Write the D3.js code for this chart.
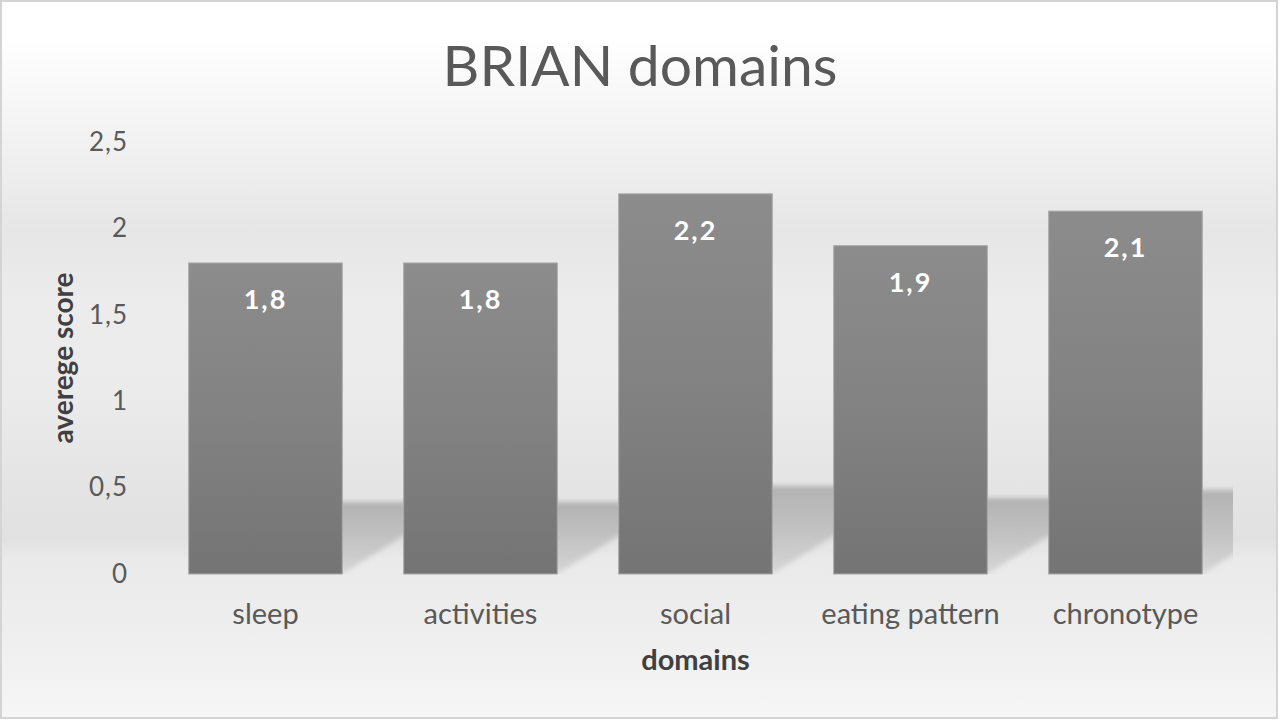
<!DOCTYPE html>
<html>
<head>
<meta charset="utf-8">
<script src="https://cdn.jsdelivr.net/npm/d3@7"></script>
<style>
  body { margin: 0; background: #fff; }
  text { font-family: Lato, "Open Sans", sans-serif; }
</style>
</head>
<body>
<div id="chart"></div>
<script>
var domains = ["sleep", "activities", "social", "eating pattern", "chronotype"];
var scores = [1.8, 1.8, 2.2, 1.9, 2.1];
var scoreLabels = ["1,8", "1,8", "2,2", "1,9", "2,1"];
var tickValues = [0, 0.5, 1, 1.5, 2, 2.5];
var tickLabels = ["0", "0,5", "1", "1,5", "2", "2,5"];

var W = 1280, H = 720;
var margin = {top: 142, right: 47, bottom: 146, left: 158},
    width = W - margin.left - margin.right,
    height = H - margin.top - margin.bottom;

var svg = d3.select("#chart")
  .append("svg")
    .attr("width", W)
    .attr("height", H);

var defs = svg.append("defs");

// background: soft grey gradient like the office preset
var bg = defs.append("linearGradient")
    .attr("id", "bg").attr("x1", 0).attr("y1", 0).attr("x2", 0).attr("y2", 1);
[[0, "#ffffff"], [0.05, "#ffffff"], [0.32, "#e6e6e6"], [0.42, "#ececec"], [0.55, "#ebebeb"],
 [0.68, "#e4e4e4"], [0.75, "#e1e1e1"], [0.78, "#eaeaea"], [0.88, "#eeeeee"], [1, "#f6f6f6"]]
  .forEach(function (s) { bg.append("stop").attr("offset", s[0]).attr("stop-color", s[1]); });

var barGrad = defs.append("linearGradient")
    .attr("id", "barGrad").attr("x1", 0).attr("y1", 0).attr("x2", 0).attr("y2", 1);
[[0, "#8c8c8c"], [0.5, "#828282"], [1, "#747474"]]
  .forEach(function (s) { barGrad.append("stop").attr("offset", s[0]).attr("stop-color", s[1]); });

var shGrad = defs.append("linearGradient")
    .attr("id", "shGrad").attr("x1", 0).attr("y1", 0).attr("x2", 0).attr("y2", 1);
[[0, "#b2b2b2"], [0.5, "#c2c2c2"], [1, "#d6d6d6"]]
  .forEach(function (s) { shGrad.append("stop").attr("offset", s[0]).attr("stop-color", s[1]); });

defs.append("filter").attr("id", "blur")
  .attr("x", "-20%").attr("y", "-20%").attr("width", "140%").attr("height", "140%")
  .append("feGaussianBlur").attr("stdDeviation", 2.5);

defs.append("clipPath").attr("id", "plotClip")
  .append("rect")
    .attr("x", 0).attr("y", 0)
    .attr("width", width).attr("height", height);

svg.append("rect")
    .attr("x", 1).attr("y", 1)
    .attr("width", W - 4).attr("height", H - 3)
    .attr("fill", "url(#bg)")
    .attr("stroke", "#d4d4d4")
    .attr("stroke-width", 2);

var g = svg.append("g")
    .attr("transform", "translate(" + margin.left + "," + margin.top + ")");

var x = d3.scaleBand()
    .domain(domains)
    .range([0, width])
    .paddingInner(0.2857)
    .paddingOuter(0.1428);

var y = d3.scaleLinear()
    .domain([0, 2.5])
    .range([height, 0]);

// perspective shadows cast backwards onto the floor
g.append("g")
    .attr("clip-path", "url(#plotClip)")
  .selectAll("polygon")
  .data(domains)
  .enter()
  .append("polygon")
    .attr("points", function (d, i) {
      var x0 = x(d), x1 = x(d) + x.bandwidth();
      var h = scores[i] * 40, s = h * 1.6;
      return [[x0, height], [x1, height], [x1 + s, height - h], [x0 + s, height - h]].join(" ");
    })
    .attr("fill", "url(#shGrad)")
    .attr("filter", "url(#blur)");

g.append("g")
    .attr("class", "y-axis")
    .call(d3.axisLeft(y).tickValues(tickValues).tickSize(0).tickPadding(30)
      .tickFormat(function (d, i) { return tickLabels[i]; }))
    .call(function (a) { a.select(".domain").remove(); })
    .selectAll("text")
      .attr("fill", "#595959")
      .style("font-size", "26px")
      .style("letter-spacing", "1px");

g.append("g")
    .attr("class", "x-axis")
    .attr("transform", "translate(0," + height + ")")
    .call(d3.axisBottom(x).tickSize(0).tickPadding(29))
    .call(function (a) { a.select(".domain").remove(); })
    .selectAll("text")
      .attr("fill", "#595959")
      .style("font-size", "29px");

g.selectAll("rect.bar")
  .data(domains)
  .enter()
  .append("rect")
    .attr("class", "bar")
    .attr("x", function (d) { return x(d); })
    .attr("y", function (d, i) { return y(scores[i]); })
    .attr("width", x.bandwidth())
    .attr("height", function (d, i) { return height - y(scores[i]); })
    .attr("fill", "url(#barGrad)")
    .attr("stroke", "#a8a8a8")
    .attr("stroke-width", 1);

g.selectAll("text.val")
  .data(domains)
  .enter()
  .append("text")
    .attr("class", "val")
    .attr("x", function (d) { return x(d) + x.bandwidth() / 2; })
    .attr("y", function (d, i) { return y(scores[i]) + 46; })
    .attr("text-anchor", "middle")
    .attr("fill", "#ffffff")
    .style("font-size", "27px")
    .style("font-weight", "bold")
    .style("letter-spacing", "2px")
    .text(function (d, i) { return scoreLabels[i]; });

svg.append("text")
    .attr("x", 640).attr("y", 86)
    .attr("text-anchor", "middle")
    .attr("fill", "#595959")
    .style("font-size", "57px")
    .text("BRIAN domains");

svg.append("text")
    .attr("transform", "translate(62," + (margin.top + height / 2) + ") rotate(-90)")
    .attr("text-anchor", "middle")
    .attr("dominant-baseline", "central")
    .attr("fill", "#404040")
    .style("font-size", "28px")
    .style("font-weight", "bold")
    .text("averege score");

svg.append("text")
    .attr("x", margin.left + width / 2).attr("y", 670)
    .attr("text-anchor", "middle")
    .attr("fill", "#404040")
    .style("font-size", "29px")
    .style("font-weight", "bold")
    .text("domains");
</script>
</body>
</html>
